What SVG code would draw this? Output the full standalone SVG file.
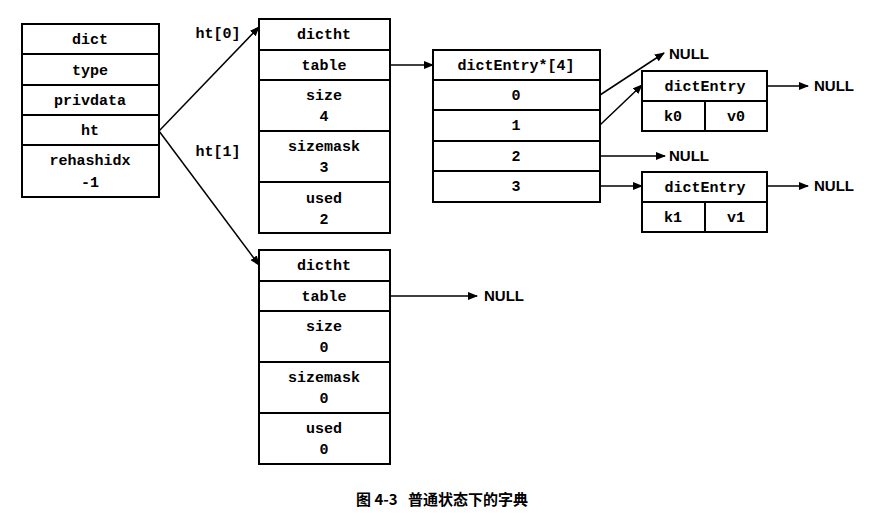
<svg xmlns="http://www.w3.org/2000/svg" width="885" height="530" viewBox="0 0 885 530">
<style>
rect{fill:#fff;stroke:#000;stroke-width:2}
line.s{stroke:#000;stroke-width:2}
text{font-family:"Liberation Mono",monospace;font-size:15px;font-weight:bold;text-anchor:middle;fill:#000}
.c{stroke:#000;stroke-width:1.5;fill:none;marker-end:url(#a)}
.l{text-anchor:start}
</style>
<defs><marker id="a" markerWidth="10" markerHeight="8" refX="9" refY="4" orient="auto" markerUnits="userSpaceOnUse"><path d="M0,0L10,4L0,8z" fill="#000"/></marker></defs>
<rect width="885" height="530" style="stroke:none"/>
<g id="dict">
<rect x="22" y="24" width="137" height="173"/>
<line class="s" x1="22" y1="54" x2="159" y2="54"/><line class="s" x1="22" y1="85" x2="159" y2="85"/><line class="s" x1="22" y1="115" x2="159" y2="115"/><line class="s" x1="22" y1="145" x2="159" y2="145"/>
<text x="90" y="44">dict</text><text x="90" y="75">type</text><text x="90" y="105">privdata</text><text x="90" y="135">ht</text><text x="90" y="165">rehashidx</text><text x="90" y="187">-1</text>
</g>
<g id="dictht0">
<rect x="259" y="19" width="131" height="214"/>
<line class="s" x1="259" y1="50" x2="390" y2="50"/><line class="s" x1="259" y1="80" x2="390" y2="80"/><line class="s" x1="259" y1="131" x2="390" y2="131"/><line class="s" x1="259" y1="182" x2="390" y2="182"/>
<text x="324" y="39">dictht</text><text x="324" y="70">table</text><text x="324" y="100">size</text><text x="324" y="121">4</text><text x="324" y="151">sizemask</text><text x="324" y="172">3</text><text x="324" y="203">used</text><text x="324" y="224">2</text>
</g>
<g id="dictht1">
<rect x="259" y="250" width="131" height="214"/>
<line class="s" x1="259" y1="281" x2="390" y2="281"/><line class="s" x1="259" y1="311" x2="390" y2="311"/><line class="s" x1="259" y1="362" x2="390" y2="362"/><line class="s" x1="259" y1="413" x2="390" y2="413"/>
<text x="324" y="270">dictht</text><text x="324" y="301">table</text><text x="324" y="331">size</text><text x="324" y="352">0</text><text x="324" y="382">sizemask</text><text x="324" y="403">0</text><text x="324" y="433">used</text><text x="324" y="454">0</text>
</g>
<g id="table">
<rect x="433" y="50" width="167" height="152"/>
<line class="s" x1="433" y1="80" x2="600" y2="80"/><line class="s" x1="433" y1="110" x2="600" y2="110"/><line class="s" x1="433" y1="141" x2="600" y2="141"/><line class="s" x1="433" y1="171" x2="600" y2="171"/>
<text x="516" y="70">dictEntry*[4]</text><text x="516" y="100">0</text><text x="516" y="130">1</text><text x="516" y="161">2</text><text x="516" y="191">3</text>
</g>
<g id="entry0">
<rect x="642" y="71" width="125" height="60"/>
<line class="s" x1="642" y1="101" x2="767" y2="101"/><line class="s" x1="705" y1="101" x2="705" y2="131"/>
<text x="705" y="91">dictEntry</text><text x="673" y="121">k0</text><text x="736" y="121">v0</text>
</g>
<g id="entry1">
<rect x="642" y="172" width="125" height="60"/>
<line class="s" x1="642" y1="202" x2="767" y2="202"/><line class="s" x1="705" y1="202" x2="705" y2="232"/>
<text x="705" y="192">dictEntry</text><text x="673" y="222">k1</text><text x="736" y="222">v1</text>
</g>
<g id="connectors">
<path class="c" d="M159,131L259,27"/>
<path class="c" d="M159,131L259,265"/>
<path class="c" d="M390,65L433,65"/>
<path class="c" d="M600,95L664,53"/>
<path class="c" d="M600,125L642,85"/>
<path class="c" d="M600,156L665,156"/>
<path class="c" d="M600,186L642,186"/>
<path class="c" d="M767,86L808,86"/>
<path class="c" d="M767,186L808,186"/>
<path class="c" d="M390,296L477,296"/>
</g>
<g id="labels">
<text x="218" y="38">ht[0]</text><text x="218" y="156">ht[1]</text>
<text class="l" x="669" y="59" style="font-family:'Liberation Sans',sans-serif">NULL</text>
<text class="l" x="669" y="161" style="font-family:'Liberation Sans',sans-serif">NULL</text>
<text class="l" x="814" y="91" style="font-family:'Liberation Sans',sans-serif">NULL</text>
<text class="l" x="814" y="191" style="font-family:'Liberation Sans',sans-serif">NULL</text>
<text class="l" x="484" y="301" style="font-family:'Liberation Sans',sans-serif">NULL</text>
<text x="442" y="505" style="font-family:'Noto Sans CJK SC',sans-serif;font-size:15px" xml:space="preserve">图 4-3   普通状态下的字典</text>
</g>
</svg>
